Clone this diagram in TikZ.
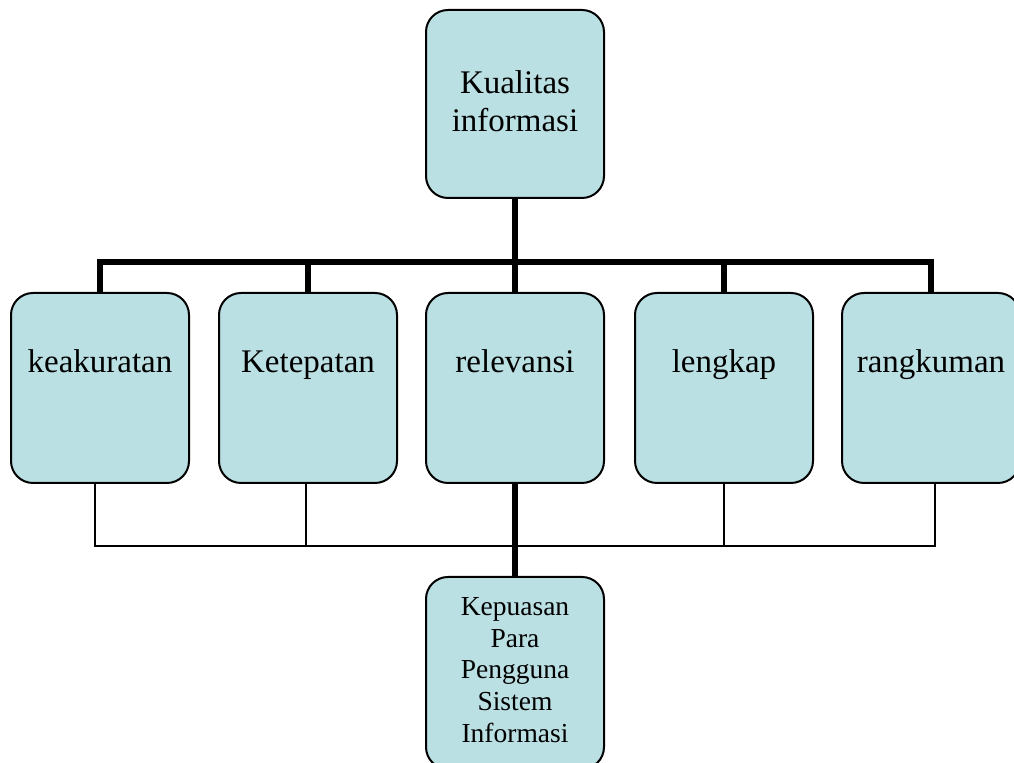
\documentclass[tikz,border=0pt]{standalone}
\usepackage{fontspec}
\setmainfont{Liberation Serif}
\usetikzlibrary{backgrounds}
\definecolor{boxfill}{HTML}{BBE0E3}
\begin{document}
\begin{tikzpicture}[x=0.5pt,y=-0.5pt,
  box/.style={draw=black,line width=1pt,fill=boxfill,rounded corners=11pt,
    minimum width=89pt,minimum height=95pt,inner sep=0pt},
  bigtxt/.style={font=\fontsize{16.5pt}{19pt}\selectfont,align=center,inner sep=0pt},
  smalltxt/.style={font=\fontsize{13.75pt}{15.8pt}\selectfont,align=center,inner sep=0pt},
  thickline/.style={line width=3pt},
  thinline/.style={line width=1pt}]
\clip (0,0) rectangle (1014,763);
\coordinate (j) at (515,262);
\coordinate (k) at (515,546);
% boxes
\node[box,minimum height=94pt] (top) at (515,104) {};
\node[box] (b1) at (100,388) {};
\node[box] (b2) at (308,388) {};
\node[box] (b3) at (515,388) {};
\node[box] (b4) at (724,388) {};
\node[box] (b5) at (931,388) {};
\node[box,minimum height=96pt] (bot) at (515,673) {};
% texts
\node[bigtxt] (toptxt) at (515,101) {Kualitas\\informasi};
\node[bigtxt,anchor=base] (t1) at (100,373) {keakuratan};
\node[bigtxt,anchor=base] (t2) at (308,373) {Ketepatan};
\node[bigtxt,anchor=base] (t3) at (515,373) {relevansi};
\node[bigtxt,anchor=base] (t4) at (724,373) {lengkap};
\node[bigtxt,anchor=base] (t5) at (931,373) {rangkuman};
\node[smalltxt] (tb) at (515,670) {Kepuasan\\Para\\Pengguna\\Sistem\\Informasi};
% connectors
\begin{scope}[on background layer]
\draw[thickline] (top.south) -- (j);
\draw[thickline] (b1.north) -- (b1.north |- j) -- (b5.north |- j) -- (b5.north);
\draw[thickline] (b2.north) -- (b2.north |- j);
\draw[thickline] (b3.north) -- (j);
\draw[thickline] (b4.north) -- (b4.north |- j);
\draw[thinline] ([xshift=-2.5pt]b1.south) -- ([xshift=-2.5pt]b1.south |- k) -- ([xshift=2pt]b5.south |- k) -- ([xshift=2pt]b5.south);
\draw[thinline] ([xshift=-1pt]b2.south) -- ([xshift=-1pt]b2.south |- k);
\draw[thinline] (b4.south) -- (b4.south |- k);
\draw[thickline] (b3.south) -- (bot.north);
\end{scope}
\end{tikzpicture}
\end{document}
